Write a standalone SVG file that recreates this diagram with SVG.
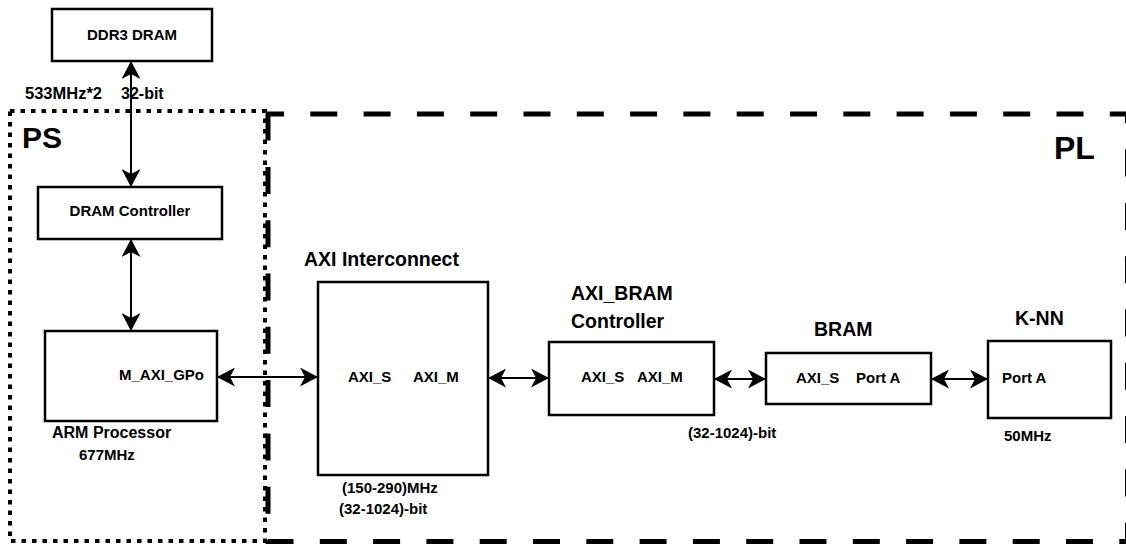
<svg xmlns="http://www.w3.org/2000/svg" width="1126" height="544" viewBox="0 0 1126 544">
<defs>
<style>
.box{fill:#fff;stroke:#000;stroke-width:2.5}
.t{font-family:"Liberation Sans",Arial,sans-serif;font-weight:bold;fill:#000}
.s{font-size:15px}
.h{font-size:19.5px}
.c{stroke:#000;stroke-width:2;fill:none;marker-start:url(#ah);marker-end:url(#ah)}
</style>
<marker id="ah" viewBox="0 0 18 19" refX="18" refY="9.5" markerWidth="18" markerHeight="19" markerUnits="userSpaceOnUse" orient="auto-start-reverse">
<path d="M0,0 L18,9.5 L0,19 L5,9.5 Z" fill="#000"/>
</marker>
</defs>
<g id="regions">
<rect x="10" y="111" width="255" height="430" fill="none" stroke="#000" stroke-width="4" stroke-dasharray="4.5 6"/>
<rect x="268" y="114" width="859.5" height="427.5" fill="none" stroke="#000" stroke-width="5" stroke-dasharray="27 26.3" stroke-dashoffset="11"/>
<text class="t" x="22" y="148" font-size="30">PS</text>
<text class="t" x="1054" y="159" font-size="32">PL</text>
</g>
<g id="connectors">
<line class="c" x1="131" y1="61" x2="131" y2="187"/>
<line class="c" x1="131" y1="239" x2="131" y2="331"/>
<line class="c" x1="217" y1="377" x2="318" y2="377"/>
<line class="c" x1="488" y1="378" x2="549" y2="378"/>
<line class="c" x1="714" y1="379" x2="766" y2="379"/>
<line class="c" x1="931" y1="379" x2="988" y2="379"/>
</g>
<g id="ddr3">
<rect class="box" x="52" y="9" width="160" height="52"/>
<text class="t s" x="132" y="40" text-anchor="middle">DDR3 DRAM</text>
<text class="t" x="25" y="99" font-size="16.5">533MHz*2</text>
<text class="t" x="121" y="99" font-size="16">32-bit</text>
</g>
<g id="dram-controller">
<rect class="box" x="38" y="187" width="184" height="52"/>
<text class="t s" x="130" y="216" text-anchor="middle">DRAM Controller</text>
</g>
<g id="arm">
<rect class="box" x="45" y="331" width="172" height="90"/>
<text class="t s" x="204" y="380" text-anchor="end">M_AXI_GPo</text>
<text class="t" x="52" y="438" font-size="16">ARM Processor</text>
<text class="t s" x="79" y="460">677MHz</text>
</g>
<g id="axi-interconnect">
<text class="t h" x="304" y="266">AXI Interconnect</text>
<rect class="box" x="318" y="282" width="170" height="193"/>
<text class="t s" x="348" y="382">AXI_S</text>
<text class="t s" x="413" y="382">AXI_M</text>
<text class="t s" x="342" y="493">(150-290)MHz</text>
<text class="t s" x="339" y="514">(32-1024)-bit</text>
</g>
<g id="axi-bram">
<text class="t h" x="571" y="300">AXI_BRAM</text>
<text class="t h" x="571" y="328">Controller</text>
<rect class="box" x="549" y="342" width="165" height="73"/>
<text class="t s" x="581" y="382">AXI_S</text>
<text class="t s" x="637" y="382">AXI_M</text>
<text class="t s" x="688" y="438">(32-1024)-bit</text>
</g>
<g id="bram">
<text class="t h" x="814" y="336">BRAM</text>
<rect class="box" x="766" y="353" width="165" height="51"/>
<text class="t s" x="796" y="383">AXI_S</text>
<text class="t s" x="856" y="383">Port A</text>
</g>
<g id="knn">
<text class="t h" x="1015" y="325">K-NN</text>
<rect class="box" x="988" y="341" width="123" height="77"/>
<text class="t s" x="1002" y="383">Port A</text>
<text class="t s" x="1004" y="441">50MHz</text>
</g>
</svg>
